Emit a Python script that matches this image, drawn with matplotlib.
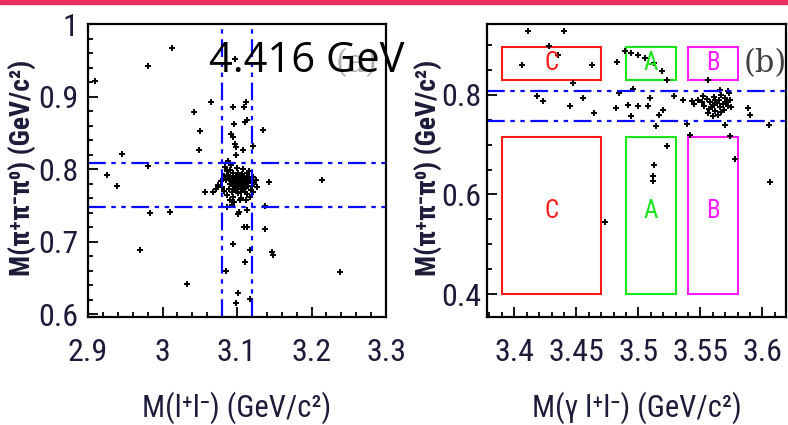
import matplotlib
matplotlib.use("Agg")
import matplotlib.pyplot as plt
from matplotlib.patches import Rectangle
from matplotlib.ticker import MultipleLocator, FixedLocator

# ---------------------------------------------------------------------------
# Data
# ---------------------------------------------------------------------------

# panel (a): M(l+l-) vs M(pi+ pi- pi0)
a_x = [
    3.013, 2.980, 3.065, 3.042, 3.050, 3.049, 2.945, 2.980, 2.926, 2.939,
    3.135, 3.214, 3.143, 3.057, 3.068, 3.137, 2.983, 3.010, 2.909, 3.097,
    3.094, 3.112, 3.110, 3.113, 3.111, 3.096, 3.092, 3.094, 3.097, 3.098,
    3.108, 3.122, 3.088, 3.098,
    2.970, 3.033, 3.094, 3.110, 3.113, 3.103, 3.114, 3.101, 3.137, 3.147,
    3.148, 3.118, 3.111, 3.085, 3.102, 3.099, 3.117, 3.238, 3.087, 3.093,
    # core of the J/psi - omega cluster
    3.082, 3.085, 3.088, 3.090, 3.092, 3.094, 3.095, 3.096, 3.098, 3.099,
    3.100, 3.101, 3.102, 3.103, 3.104, 3.105, 3.106, 3.107, 3.108, 3.109,
    3.110, 3.111, 3.112, 3.113, 3.114, 3.115, 3.117, 3.119, 3.121, 3.123,
    3.125, 3.078, 3.080, 3.083, 3.086, 3.087, 3.089, 3.091, 3.093, 3.094,
    3.095, 3.097, 3.097, 3.098, 3.099, 3.100, 3.101, 3.102, 3.103, 3.104,
    3.105, 3.106, 3.107, 3.108, 3.109, 3.110, 3.111, 3.112, 3.113, 3.116,
    3.118, 3.120, 3.075, 3.072, 3.084, 3.092, 3.100, 3.108, 3.116, 3.090,
    3.096, 3.104, 3.112, 3.122, 3.127, 3.093, 3.096, 3.101, 3.105, 3.089,
]
a_y = [
    0.967, 0.942, 0.892, 0.879, 0.853, 0.826, 0.821, 0.804, 0.792, 0.777,
    0.854, 0.785, 0.782, 0.768, 0.769, 0.749, 0.740, 0.741, 0.922, 0.952,
    0.885, 0.892, 0.885, 0.867, 0.865, 0.862, 0.848, 0.844, 0.834, 0.830,
    0.826, 0.832, 0.811, 0.820,
    0.688, 0.642, 0.697, 0.720, 0.720, 0.741, 0.744, 0.738, 0.717, 0.686,
    0.681, 0.688, 0.672, 0.659, 0.629, 0.615, 0.621, 0.658, 0.748, 0.750,
    0.790, 0.785, 0.792, 0.780, 0.787, 0.776, 0.795, 0.783, 0.770, 0.789,
    0.778, 0.784, 0.773, 0.792, 0.781, 0.768, 0.787, 0.775, 0.782, 0.790,
    0.772, 0.779, 0.786, 0.766, 0.794, 0.777, 0.783, 0.771, 0.789, 0.779,
    0.785, 0.783, 0.775, 0.770, 0.798, 0.764, 0.773, 0.799, 0.768, 0.790,
    0.762, 0.777, 0.786, 0.782, 0.774, 0.791, 0.767, 0.788, 0.779, 0.785,
    0.776, 0.760, 0.793, 0.771, 0.783, 0.786, 0.769, 0.776, 0.781, 0.789,
    0.762, 0.776, 0.778, 0.772, 0.803, 0.805, 0.802, 0.800, 0.798, 0.758,
    0.755, 0.757, 0.758, 0.768, 0.775, 0.783, 0.771, 0.795, 0.780, 0.786,
]

# panel (b): M(gamma l+l-) vs M(pi+ pi- pi0)
b_x = [
    3.411, 3.440, 3.406, 3.435, 3.428, 3.463, 3.483, 3.489, 3.494, 3.500,
    3.505, 3.513, 3.519, 3.523, 3.447, 3.418, 3.423, 3.455, 3.445, 3.464,
    3.484, 3.496, 3.492, 3.500, 3.482, 3.508, 3.509, 3.494, 3.520, 3.517,
    3.514, 3.529, 3.536, 3.556, 3.539, 3.570, 3.542, 3.574, 3.588, 3.590,
    3.605, 3.578, 3.606, 3.523, 3.513, 3.512, 3.512, 3.473, 3.572, 3.566,
    # cluster near the chi_c2 region
    3.548, 3.551, 3.553, 3.555, 3.557, 3.558, 3.560, 3.561, 3.562, 3.563,
    3.565, 3.566, 3.567, 3.568, 3.569, 3.570, 3.571, 3.572, 3.573, 3.574,
    3.556, 3.560, 3.545, 3.543, 3.552, 3.564, 3.575, 3.559, 3.562, 3.567,
]
b_y = [
    0.927, 0.927, 0.860, 0.880, 0.897, 0.859, 0.865, 0.887, 0.883, 0.880,
    0.873, 0.863, 0.847, 0.830, 0.823, 0.797, 0.787, 0.793, 0.777, 0.763,
    0.803, 0.811, 0.780, 0.778, 0.773, 0.777, 0.793, 0.757, 0.770, 0.760,
    0.738, 0.797, 0.790, 0.830, 0.742, 0.740, 0.720, 0.718, 0.773, 0.760,
    0.740, 0.671, 0.625, 0.697, 0.660, 0.637, 0.627, 0.545, 0.807, 0.810,
    0.790, 0.785, 0.778, 0.792, 0.772, 0.786, 0.780, 0.795, 0.768, 0.783,
    0.789, 0.776, 0.800, 0.782, 0.770, 0.793, 0.786, 0.778, 0.803, 0.790,
    0.763, 0.758, 0.782, 0.788, 0.798, 0.760, 0.775, 0.775, 0.790, 0.765,
]

mll_cut = [3.08, 3.12]
omega_cut = [0.748, 0.808]

box_names = ["C", "A", "B"]
box_colors = ["#ff1a1a", "#19e619", "#ff19ff"]
box_x0 = [3.390, 3.490, 3.540]
box_x1 = [3.470, 3.530, 3.580]
upper_box_y = (0.830, 0.896)
lower_box_y = (0.400, 0.715)

a_xticks = [2.9, 3.0, 3.1, 3.2, 3.3]
a_xticklabels = ["2.9", "3", "3.1", "3.2", "3.3"]
a_yticks = [0.6, 0.7, 0.8, 0.9, 1.0]
a_yticklabels = ["0.6", "0.7", "0.8", "0.9", "1"]
b_xticks = [3.40, 3.45, 3.50, 3.55, 3.60]
b_xticklabels = ["3.4", "3.45", "3.5", "3.55", "3.6"]
b_yticks = [0.4, 0.6, 0.8]
b_yticklabels = ["0.4", "0.6", "0.8"]

# ---------------------------------------------------------------------------
# Style
# ---------------------------------------------------------------------------

FONT = ["Roboto Condensed", "DejaVu Sans"]
plt.rcParams["font.family"] = FONT
TICK_COLOR = "#1c1c3a"
CUT_STYLE = dict(color="#0a0aff", lw=1.6, ls=(0, (8, 2.5, 2, 2.5, 2, 2.5)))


def style_axes(ax, xticks, xlabels, yticks, ylabels, xminor, yminor, ypad):
    ax.xaxis.set_major_locator(FixedLocator(xticks))
    ax.set_xticklabels(xlabels)
    ax.yaxis.set_major_locator(FixedLocator(yticks))
    ax.set_yticklabels(ylabels)
    ax.xaxis.set_minor_locator(MultipleLocator(xminor))
    ax.yaxis.set_minor_locator(MultipleLocator(yminor))
    ax.tick_params(which="both", direction="in", top=False, right=False,
                   width=1.3, colors="black", labelcolor=TICK_COLOR,
                   labelsize=23)
    ax.tick_params(which="major", length=7)
    ax.tick_params(which="minor", length=3.5)
    ax.tick_params(axis="x", which="both", pad=15)
    ax.tick_params(axis="y", which="both", pad=ypad)
    for sp in ax.spines.values():
        sp.set_linewidth(1.6)


fig = plt.figure(figsize=(7.88, 4.25), dpi=100)

# thin header band of the slide
fig.patches.append(Rectangle((0, 1 - 4 / 425), 1, 4 / 425, transform=fig.transFigure,
                             color="#e8305a", zorder=0))

# ---------------------------------------------------------------------------
# Panel (a)
# ---------------------------------------------------------------------------
ax1 = fig.add_axes([88 / 788, 1 - 317 / 425, 298 / 788, 293 / 425])
ax1.plot(a_x, a_y, ls="none", marker="+", ms=4.5, mew=1.4, color="black")
for xc in mll_cut:
    ax1.axvline(xc, **CUT_STYLE)
for yc in omega_cut:
    ax1.axhline(yc, **CUT_STYLE)
ax1.set_xlim(2.9, 3.3)
ax1.set_ylim(0.596, 1.0)
style_axes(ax1, a_xticks, a_xticklabels, a_yticks, a_yticklabels, 0.02, 0.02, 7)
ax1.set_xlabel("M(l⁺l⁻) (GeV/c²)", fontsize=22, color=TICK_COLOR)
ax1.set_ylabel("M(π⁺π⁻π⁰) (GeV/c²)", fontsize=20, fontweight="bold", color=TICK_COLOR)
ax1.xaxis.set_label_coords(0.5, -0.255)
ax1.yaxis.set_label_coords(-0.175, 0.51)
ax1.text(0.90, 0.865, "(a)", transform=ax1.transAxes, ha="center", va="center",
         fontsize=22, family="DejaVu Serif", color="#b0b0b0")

# ---------------------------------------------------------------------------
# Panel (b)
# ---------------------------------------------------------------------------
ax2 = fig.add_axes([487 / 788, 1 - 317 / 425, 299 / 788, 293 / 425])
ax2.plot(b_x, b_y, ls="none", marker="+", ms=4.5, mew=1.4, color="black")
for yc in omega_cut:
    ax2.axhline(yc, **CUT_STYLE)
for name, col, x0, x1 in zip(box_names, box_colors, box_x0, box_x1):
    for y0, y1, ytxt in [(upper_box_y[0], upper_box_y[1], None),
                         (lower_box_y[0], lower_box_y[1], 0.566)]:
        ax2.add_patch(Rectangle((x0, y0), x1 - x0, y1 - y0, fill=False,
                                edgecolor=col, lw=1.5, zorder=1))
        ty = (y0 + y1) / 2 if ytxt is None else ytxt
        ax2.text((x0 + x1) / 2, ty, name, color=col, fontsize=18,
                 ha="center", va="center")
ax2.set_xlim(3.378, 3.619)
ax2.set_ylim(0.354, 0.942)
style_axes(ax2, b_xticks, b_xticklabels, b_yticks, b_yticklabels, 0.01, 0.05, 4)
ax2.set_xlabel("M(γ l⁺l⁻) (GeV/c²)", fontsize=22, color=TICK_COLOR)
ax2.set_ylabel("M(π⁺π⁻π⁰) (GeV/c²)", fontsize=20, fontweight="bold", color=TICK_COLOR)
ax2.xaxis.set_label_coords(0.5, -0.255)
ax2.yaxis.set_label_coords(-0.152, 0.51)
ax2.text(0.93, 0.865, "(b)", transform=ax2.transAxes, ha="center", va="center",
         fontsize=22, family="DejaVu Serif", color="#404040")

# slide annotation on top of both panels
fig.text(209 / 788, 1 - 72 / 425, "4.416 GeV", fontsize=30, color="black",
         family=["Open Sans", "DejaVu Sans"], ha="left", va="baseline", zorder=10)

fig.savefig("out.png", dpi=100)
